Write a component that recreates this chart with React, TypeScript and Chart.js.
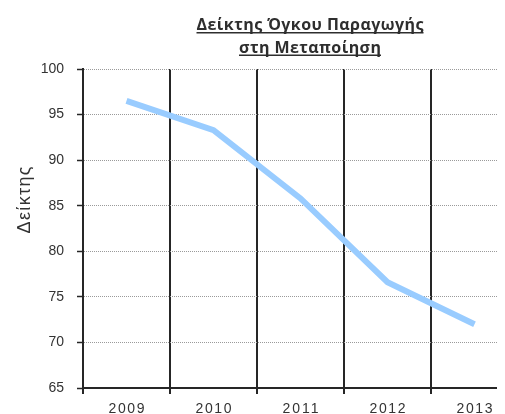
import React, { useEffect, useRef } from "react";
import { Chart, registerables } from "chart.js";

Chart.register(...registerables);

const years = ["2009", "2010", "2011", "2012", "2013"];
const indexValues = [96.5, 93.3, 85.8, 76.6, 72.0];
const yTicks = { min: 65, max: 100, step: 5 };
const titleLines = ["Δείκτης Όγκου Παραγωγής", "στη Μεταποίηση"];
const yTitle = "Δείκτης";

const FONT = "'Liberation Sans', Arial, sans-serif";
const TITLE_FONT = "'Open Sans', 'Liberation Sans', sans-serif";

function drawFitted(
  ctx: CanvasRenderingContext2D,
  text: string,
  font: string,
  target: number,
  cx: number,
  y: number
) {
  ctx.font = font;
  (ctx as any).letterSpacing = "0px";
  const w = ctx.measureText(text).width;
  const n = Array.from(text).length;
  const ls = (target - w) / Math.max(1, n - 1);
  (ctx as any).letterSpacing = `${ls}px`;
  const tw = w + ls * (n - 1);
  const x0 = cx - tw / 2;
  ctx.textAlign = "left";
  ctx.fillText(text, x0, y);
  (ctx as any).letterSpacing = "0px";
  return { x0, tw };
}

const textPlugin = {
  id: "customText",
  afterDraw(chart: any) {
    const ctx = chart.ctx as CanvasRenderingContext2D;
    ctx.save();
    ctx.fillStyle = "#2e2e2e";
    ctx.strokeStyle = "#2e2e2e";

    // Title lines (underlined)
    const targets = [227, 142];
    const baselines = [22, 44.5];
    const cx = 302;
    titleLines.forEach((line, i) => {
      ctx.textBaseline = "alphabetic";
      const { x0, tw } = drawFitted(ctx, line, `bold 16px ${TITLE_FONT}`, targets[i], cx, baselines[i]);
      ctx.lineWidth = 1.6;
      ctx.beginPath();
      ctx.moveTo(x0, baselines[i] + 2.8);
      ctx.lineTo(x0 + tw, baselines[i] + 2.8);
      ctx.stroke();
    });

    // Y axis title
    ctx.fillStyle = "#333333";
    ctx.save();
    ctx.translate(17, 192);
    ctx.rotate(-Math.PI / 2);
    ctx.textBaseline = "middle";
    drawFitted(ctx, yTitle, `18px ${FONT}`, 67, 0, 0);
    ctx.restore();

    // X tick labels
    const xScale = chart.scales.x;
    ctx.textBaseline = "top";
    years.forEach((label, i) => {
      const x = xScale.getPixelForTick(i);
      drawFitted(ctx, label, `14px ${FONT}`, 36, x, 394);
    });
    ctx.restore();
  },
};

export default function App() {
  const canvasRef = useRef<HTMLCanvasElement | null>(null);

  useEffect(() => {
    if (!canvasRef.current) return;
    const chart = new Chart(canvasRef.current, {
      type: "line",
      data: {
        labels: years,
        datasets: [
          {
            data: indexValues,
            borderColor: "#99CCFF",
            borderWidth: 6,
            pointRadius: 0,
            pointHoverRadius: 0,
            tension: 0,
            fill: false,
          },
        ],
      },
      options: {
        animation: false,
        responsive: true,
        maintainAspectRatio: false,
        layout: { padding: { top: 61, right: 20, left: 0, bottom: 0 } },
        plugins: {
          legend: { display: false },
          title: { display: false },
          tooltip: { enabled: false },
        },
        scales: {
          x: {
            type: "category",
            offset: true,
            afterFit: (scale: any) => {
              scale.height = 26;
            },
            grid: {
              offset: true,
              color: "#262626",
              lineWidth: 2,
              tickLength: 6,
              tickColor: "#262626",
              tickWidth: 2,
            },
            border: { color: "#262626", width: 2 },
            ticks: { display: false },
          },
          y: {
            min: yTicks.min,
            max: yTicks.max,
            afterFit: (scale: any) => {
              scale.width = 75;
            },
            ticks: {
              stepSize: yTicks.step,
              padding: 13,
              color: "#333333",
              font: { family: FONT, size: 14 },
            },
            grid: {
              color: "#9a9a9a",
              lineWidth: 1,
              borderDash: [1, 1],
              tickLength: 6,
              tickColor: "#262626",
              tickWidth: 1.5,
              tickBorderDash: [],
            } as any,
            border: { color: "#262626", width: 2, dash: [1, 1] },
          },
        },
      },
      plugins: [textPlugin],
    } as any);
    return () => chart.destroy();
  }, []);

  return (
    <div style={{ width: 497, height: 406, overflow: "hidden" }}>
      <div style={{ width: 530, height: 406, position: "relative" }}>
        <canvas ref={canvasRef} />
      </div>
    </div>
  );
}
